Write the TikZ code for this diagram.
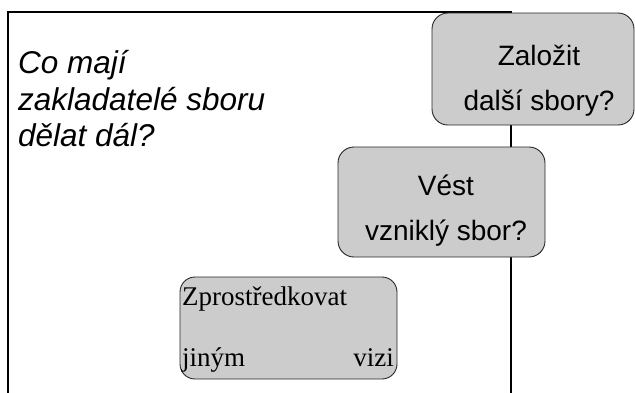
\documentclass[tikz,border=0pt]{standalone}
\usepackage{fontspec}
\setmainfont{Liberation Serif}
\newfontfamily\arialfont{Liberation Sans}
\definecolor{boxgray}{RGB}{204,204,204}
\begin{document}
\begin{tikzpicture}[x=1pt,y=-1pt,
  framebox/.style={line width=2pt,draw=black},
  qbox/.style={draw=black!85,line width=0.9pt,fill=boxgray,rounded corners=16pt},
  sanslabel/.style={font=\arialfont\fontsize{28}{33}\selectfont,anchor=base,inner sep=0pt},
  seriflabel/.style={font=\fontsize{27}{32}\selectfont,inner sep=0pt},
  titlelabel/.style={font=\arialfont\itshape\fontsize{31.5}{37}\selectfont,anchor=base west,inner sep=0pt}]
\useasboundingbox (0,0) rectangle (635,392);
% frame
\coordinate (fbl) at (8,393);
\coordinate (ftl) at (8,12);
\coordinate (ftr) at (511,12);
\coordinate (fbr) at (511,393);
\draw[framebox] (fbl) -- (ftl) -- (ftr) -- (fbr);
% title
\node[titlelabel] (t1) at (18,73) {Co mají};
\node[titlelabel] (t2) at (18,110) {zakladatelé sboru};
\node[titlelabel] (t3) at (18,146) {dělat dál?};
% box 1
\draw[qbox] (432,13) rectangle (634,125);
\node[sanslabel] (b1a) at (539,65) {Založit};
\node[sanslabel] (b1b) at (539,110) {další sbory?};
% box 2
\draw[qbox] (338,147) rectangle (545,257);
\node[sanslabel] (b2a) at (446,195) {Vést};
\node[sanslabel] (b2b) at (446,240) {vzniklý sbor?};
% box 3
\draw[qbox,rounded corners=15pt] (180,277) rectangle (397,379);
\node[seriflabel,anchor=base west] (b3a) at (182,305) {Zprostředkovat};
\node[seriflabel,anchor=base west] (b3b) at (182,366) {jiným};
\node[seriflabel,anchor=base east] (b3c) at (394,366) {vizi};
\end{tikzpicture}
\end{document}
